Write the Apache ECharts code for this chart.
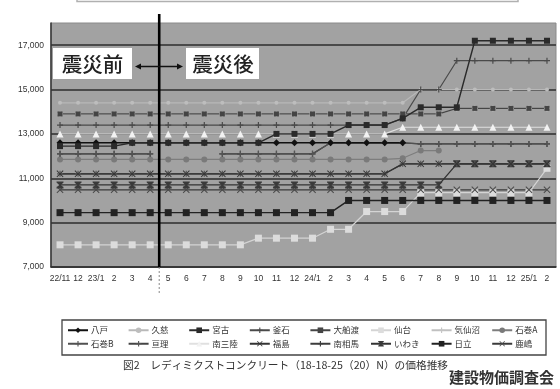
<!DOCTYPE html>
<html>
<head>
<meta charset="utf-8">
<script src="https://cdn.jsdelivr.net/npm/echarts@6/dist/echarts.min.js"></script>
<style>
  html, body { margin: 0; padding: 0; background: #ffffff; }
  #chart { width: 560px; height: 389px; }
</style>
</head>
<body>
<div id="chart"></div>
<script>
// Survey months (Nov 2010 - Feb 2013) and the short tick labels shown under the axis
const months = ['22/11','22/12','23/1','23/2','23/3','23/4','23/5','23/6','23/7','23/8','23/9','23/10','23/11','23/12',
                '24/1','24/2','24/3','24/4','24/5','24/6','24/7','24/8','24/9','24/10','24/11','24/12','25/1','25/2'];
const monthLabels = ['22/11','12','23/1','2','3','4','5','6','7','8','9','10','11','12',
                     '24/1','2','3','4','5','6','7','8','9','10','11','12','25/1','2'];
const yTicks = [7000, 9000, 11000, 13000, 15000, 17000];

// Price per m3 (yen), one list per city
const hachinohe = [12600,12600,12600,12600,12600,12600,12600,12600,12600,12600,12600,12600,12600,12600,12600,12600,12600,12600,12600,12600,null,null,null,null,null,null,null,null];
const kuji      = [14400,14400,14400,14400,14400,14400,14400,14400,14400,14400,14400,14400,14400,14400,14400,14400,14400,14400,14400,14400,15000,15000,15000,15000,15000,15000,15000,15000];
const miyako    = [12450,12450,12450,12450,12600,12600,12600,12600,12600,12600,12600,12600,13000,13000,13000,13000,13400,13400,13400,13700,14200,14200,14200,17200,17200,17200,17200,17200];
const kamaishi  = [13400,13400,13400,13400,13400,13400,13400,13400,13400,13400,13400,13400,13400,13400,13400,13400,13400,13400,13400,13700,15000,15000,16300,16300,16300,16300,16300,16300];
const ofunato   = [13900,13900,13900,13900,13900,13900,13900,13900,13900,13900,13900,13900,13900,13900,13900,13900,13900,13900,13900,13900,13900,13900,14150,14150,14150,14150,14150,14150];
const sendai    = [8000,8000,8000,8000,8000,8000,8000,8000,8000,8000,8000,8300,8300,8300,8300,8700,8700,9500,9500,9500,10350,10350,10350,10350,10350,10350,10350,11450];
const kesennuma = [13900,13900,13900,13900,13900,13900,13900,13900,13900,13900,13900,13900,13900,13900,13900,13900,13900,13900,13900,13900,13900,13900,14150,14150,14150,14150,14150,14150];
const ishinomakiA = [11850,11850,11850,11850,11850,11850,11850,11850,11850,11850,11850,11850,11850,11850,11850,11850,11850,11850,11850,11900,12250,12250,null,null,null,null,null,null];
const ishinomakiB = [12100,12100,12100,12100,12100,12100,null,null,null,12100,12100,12100,12100,12100,12100,12600,12600,12600,12600,12600,12550,12550,12550,12550,12550,12550,12550,12550];
const watari    = [11200,11200,11200,11200,11200,11200,11200,11200,11200,11200,11200,11200,11200,11200,11200,11200,11200,11200,11200,11650,11650,11650,11650,11650,11650,11650,11650,11650];
const minamisanriku = [13000,13000,13000,13000,13000,13000,13000,13000,13000,13000,13000,13000,13000,13000,13000,13000,13000,13000,13000,13300,13300,13300,13300,13300,13300,13300,13300,13300];
const fukushima = [11200,11200,11200,11200,11200,11200,11200,11200,11200,11200,11200,11200,11200,11200,11200,11200,11200,11200,11200,11650,11650,11650,11650,11650,11650,11650,11650,11650];
const minamisoma = [12100,12100,12100,12100,12100,12100,null,null,null,12100,12100,12100,12100,12100,12100,12600,12600,12600,12600,12600,12550,12550,12550,12550,12550,12550,12550,12550];
const iwaki     = [10700,10700,10700,10700,10700,10700,10700,10700,10700,10700,10700,10700,10700,10700,10700,10700,10700,10700,10700,10700,10700,10700,11650,11650,11650,11650,11650,11650];
const hitachi   = [9450,9450,9450,9450,9450,9450,9450,9450,9450,9450,9450,9450,9450,9450,9450,9450,10000,10000,10000,10000,10000,10000,10000,10000,10000,10000,10000,10000];
const kashima   = [10480,10480,10480,10480,10480,10480,10480,10480,10480,10480,10480,10480,10480,10480,10480,10480,10480,10480,10480,10480,10480,10480,10480,10480,10480,10480,10480,10480];

const cityNames = ['八戸','久慈','宮古','釜石','大船渡','仙台','気仙沼','石巻A',
                   '石巻B','亘理','南三陸','福島','南相馬','いわき','日立','鹿嶋'];

// Marker shapes
const SYM_X = 'path://M0,1L1,0L5,4L9,0L10,1L6,5L10,9L9,10L5,6L1,10L0,9L4,5Z';
const SYM_PLUS = 'path://M4,0H6V4H10V6H6V10H4V6H0V4H4Z';
const SYM_GLASS = 'path://M0,0H10V1.5L6.2,5L10,8.5V10H0V8.5L3.8,5L0,1.5Z';
const SYM_DASH = 'path://M0,4H10V6H0Z';

function line(name, data, color, symbol, size, lineColor, width) {
  return {
    name: name, type: 'line', data: data,
    symbol: symbol, symbolSize: size, showSymbol: true,
    itemStyle: { color: color },
    lineStyle: { color: lineColor || color, width: width || 1.2 },
    emphasis: { disabled: true }, animation: false
  };
}

// Drawing order: earlier entries sit underneath later ones
const series = [
  line('仙台', sendai, '#dcdcdc', 'rect', 7, '#d4d4d4', 1.2),
  line('鹿嶋', kashima, '#4a4a4a', SYM_X, 7, '#3a3a3a', 1.2),
  line('いわき', iwaki, '#3a3a3a', SYM_GLASS, 7, '#333', 1.3),
  line('亘理', watari, '#555', SYM_PLUS, 6, '#444', 1.2),
  line('福島', fukushima, '#333', SYM_X, 7, '#333', 1.2),
  line('石巻A', ishinomakiA, '#7a7a7a', 'circle', 6, '#7d7d7d', 1.2),
  line('南相馬', minamisoma, '#3c3c3c', SYM_PLUS, 6, '#3c3c3c', 1.2),
  line('石巻B', ishinomakiB, '#555', SYM_PLUS, 6, '#505050', 1.2),
  line('日立', hitachi, '#222', 'rect', 7, '#222', 1.4),
  line('南三陸', minamisanriku, '#f2f2f2', 'triangle', 7, '#e0e0e0', 1.2),
  line('八戸', hachinohe, '#111', 'diamond', 7, '#111', 1.4),
  line('久慈', kuji, '#bdbdbd', 'circle', 4, '#b8b8b8', 1.2),
  line('気仙沼', kesennuma, '#c4c4c4', SYM_PLUS, 6, '#c0c0c0', 1.2),
  line('大船渡', ofunato, '#444', SYM_DASH, 5, '#454545', 1.3),
  line('釜石', kamaishi, '#4a4a4a', SYM_PLUS, 6, '#4a4a4a', 1.2),
  line('宮古', miyako, '#2a2a2a', 'rect', 6, '#2a2a2a', 1.4)
];

const legends = [];
for (let i = 0; i < 8; i++) {
  legends.push({
    show: true, orient: 'vertical',
    left: 67 + i * 60.6, top: 326,
    itemWidth: 20, itemHeight: 7, itemGap: 5, padding: 0,
    data: [cityNames[i], cityNames[i + 8]],
    selectedMode: false,
    textStyle: { fontSize: 8.5, color: '#333', padding: [0, 0, 0, -2],
                 fontFamily: '"Noto Sans CJK JP", sans-serif' }
  });
}

const chart = echarts.init(document.getElementById('chart'), null, { renderer: 'canvas' });
chart.setOption({
  animation: false,
  backgroundColor: '#ffffff',
  grid: { left: 51, right: 4, top: 23, bottom: 122, show: true,
          backgroundColor: '#a2a2a2', borderColor: '#8a8a8a', borderWidth: 1 },
  legend: legends,
  xAxis: {
    type: 'category', data: months, boundaryGap: true,
    axisLine: { lineStyle: { color: '#333', width: 1.5 } },
    axisTick: { inside: true, length: 3, lineStyle: { color: '#333' } },
    axisLabel: { interval: 0, fontSize: 8.5, color: '#333', margin: 7,
                 fontFamily: '"Liberation Sans", Arial, sans-serif',
                 formatter: function (v, i) { return monthLabels[i]; } },
    splitLine: { show: false }
  },
  yAxis: {
    type: 'value', min: 7000, max: 18000, interval: 1000,
    axisLine: { show: true, lineStyle: { color: '#333', width: 1.5 } },
    axisTick: { show: false },
    axisLabel: { fontSize: 8.5, color: '#333', margin: 7,
                 fontFamily: '"Liberation Sans", Arial, sans-serif',
                 formatter: function (v) { return yTicks.indexOf(v) >= 0 ? v.toLocaleString('en-US') : ''; } },
    splitLine: { show: true, lineStyle: { color: ['#4a4a4a', 'rgba(0,0,0,0)'], width: 2 } }
  },
  series: series
});

// Divider between the pre- and post-earthquake periods, placed from the axis scale
const xa = chart.convertToPixel({ xAxisIndex: 0 }, 5);
const xb = chart.convertToPixel({ xAxisIndex: 0 }, 6);
const xDiv = (xa + xb) / 2;
const yBottom = chart.convertToPixel({ yAxisIndex: 0 }, 7000);

chart.setOption({
  graphic: [
    { type: 'rect', shape: { x: 77, y: -4, width: 441, height: 5.5 },
      style: { fill: 'none', stroke: '#b0b0b0', lineWidth: 1.5 }, z: 10 },
    { type: 'line', shape: { x1: xDiv, y1: 14, x2: xDiv, y2: yBottom },
      style: { stroke: '#000', lineWidth: 2.6 }, z: 20 },
    { type: 'line', shape: { x1: xDiv, y1: yBottom, x2: xDiv, y2: 295 },
      style: { stroke: '#888', lineWidth: 1, lineDash: [2, 2] }, z: 20 },
    { type: 'rect', shape: { x: 53, y: 48, width: 79, height: 31 },
      style: { fill: '#ffffff' }, z: 30 },
    { type: 'text', x: 92.5, y: 64,
      style: { text: '震災前', fontSize: 20.5, fontWeight: 500, fill: '#222',
               fontFamily: '"Noto Sans CJK JP", sans-serif', align: 'center', verticalAlign: 'middle' }, z: 31 },
    { type: 'rect', shape: { x: 186, y: 48, width: 73, height: 31 },
      style: { fill: '#ffffff' }, z: 30 },
    { type: 'text', x: 223, y: 64,
      style: { text: '震災後', fontSize: 20.5, fontWeight: 500, fill: '#222',
               fontFamily: '"Noto Sans CJK JP", sans-serif', align: 'center', verticalAlign: 'middle' }, z: 31 },
    { type: 'line', shape: { x1: 138, y1: 66.5, x2: 180, y2: 66.5 },
      style: { stroke: '#111', lineWidth: 1.3 }, z: 31 },
    { type: 'polygon', shape: { points: [[135, 66.5], [141, 63.5], [141, 69.5]] },
      style: { fill: '#111' }, z: 31 },
    { type: 'polygon', shape: { points: [[183, 66.5], [177, 63.5], [177, 69.5]] },
      style: { fill: '#111' }, z: 31 },
    { type: 'rect', shape: { x: 62, y: 320, width: 484, height: 35 },
      style: { fill: 'none', stroke: '#444', lineWidth: 1.3 }, z: 5 },
    { type: 'text', x: 123, y: 365,
      style: { text: '図2　レディミクストコンクリート（18-18-25（20）N）の価格推移', fontSize: 10.7, fill: '#333',
               fontFamily: '"Noto Sans CJK JP", sans-serif', verticalAlign: 'middle' }, z: 5 },
    { type: 'text', x: 449, y: 377,
      style: { text: '建設物価調査会', fontSize: 15, fontWeight: 'bold', fill: '#333',
               fontFamily: '"Noto Sans CJK JP", sans-serif', verticalAlign: 'middle' }, z: 5 }
  ]
});
</script>
</body>
</html>
